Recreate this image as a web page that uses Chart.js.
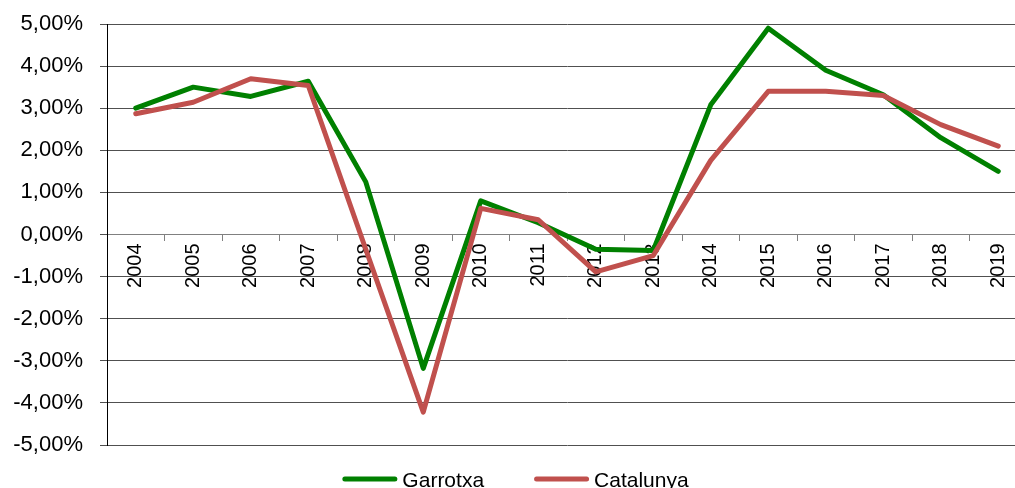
<!DOCTYPE html>
<html>
<head>
<meta charset="utf-8">
<title>Garrotxa i Catalunya</title>
<script src="https://cdn.jsdelivr.net/npm/chart.js@4.4.1/dist/chart.umd.min.js"></script>
<style>
  html, body { margin: 0; padding: 0; background: #fff; overflow: hidden; }
  #wrap { width: 1030px; height: 488px; }
</style>
</head>
<body>
<div id="wrap"><canvas id="chart" width="1030" height="488"></canvas></div>
<script>
// Annual variation (%) by year
const years = ['2004', '2005', '2006', '2007', '2008', '2009', '2010', '2011',
               '2012', '2013', '2014', '2015', '2016', '2017', '2018', '2019'];
const garrotxa = [3.00, 3.50, 3.28, 3.64, 1.25, -3.18, 0.80, 0.28,
                  -0.35, -0.38, 3.08, 4.90, 3.90, 3.32, 2.30, 1.50];
const catalunya = [2.87, 3.14, 3.70, 3.54, -0.35, -4.22, 0.62, 0.35,
                   -0.89, -0.50, 1.76, 3.40, 3.40, 3.30, 2.61, 2.10];
const yMin = -5;
const yMax = 5;
const yStep = 1;

const FONT = "'Liberation Sans', Arial, sans-serif";

const fmtPct = v => v.toFixed(2).replace('-0.00', '0.00').replace('.', ',') + '%';

// Legend drawn under the plot: a short stroke per series followed by its name
const lineLegend = {
  id: 'lineLegend',
  afterDraw(chart, args, opts) {
    const ctx = chart.ctx;
    ctx.save();
    ctx.font = `${opts.size}px ${FONT}`;
    const items = chart.data.datasets.map(ds => ({
      text: ds.label,
      color: ds.borderColor,
      w: ctx.measureText(ds.label).width
    }));
    const total = items.reduce((s, it) => s + opts.lineLen + opts.textGap + it.w, 0)
                + opts.itemGap * (items.length - 1);
    let x = opts.centerX - total / 2;
    items.forEach(it => {
      ctx.strokeStyle = it.color;
      ctx.lineWidth = opts.lineWidth;
      ctx.lineCap = 'round';
      ctx.beginPath();
      ctx.moveTo(x + opts.lineWidth / 2, opts.y);
      ctx.lineTo(x + opts.lineLen - opts.lineWidth / 2, opts.y);
      ctx.stroke();
      ctx.fillStyle = '#000';
      ctx.textBaseline = 'alphabetic';
      ctx.textAlign = 'left';
      ctx.fillText(it.text, x + opts.lineLen + opts.textGap, opts.y + 7.5);
      x += opts.lineLen + opts.textGap + it.w + opts.itemGap;
    });
    ctx.restore();
  }
};

new Chart(document.getElementById('chart'), {
  type: 'line',
  data: {
    labels: years,
    datasets: [
      {
        label: 'Garrotxa',
        data: garrotxa,
        borderColor: '#008000',
        backgroundColor: '#008000',
        borderWidth: 5,
        order: 2
      },
      {
        label: 'Catalunya',
        data: catalunya,
        borderColor: '#C0504D',
        backgroundColor: '#C0504D',
        borderWidth: 5,
        order: 1
      }
    ]
  },
  plugins: [lineLegend],
  options: {
    responsive: false,
    animation: false,
    devicePixelRatio: 1,
    layout: { padding: { top: 24, bottom: 43, left: 0, right: 3 } },
    elements: {
      line: { tension: 0, borderCapStyle: 'round', borderJoinStyle: 'round', fill: false },
      point: { radius: 0, hoverRadius: 0 }
    },
    plugins: {
      legend: { display: false },
      tooltip: { enabled: false },
      lineLegend: { size: 21, lineLen: 55, lineWidth: 5, textGap: 5, itemGap: 50, centerX: 515.5, y: 479 }
    },
    scales: {
      x: {
        type: 'category',
        position: { y: 0 },
        offset: true,
        grid: { drawOnChartArea: false, drawTicks: true, tickLength: 6, color: '#808080', offset: true },
        border: { display: true, color: '#808080', width: 1 },
        ticks: {
          autoSkip: false,
          minRotation: 90,
          maxRotation: 90,
          padding: 3,
          color: '#000',
          font: { family: FONT, size: 20 }
        }
      },
      y: {
        position: 'left',
        min: yMin,
        max: yMax,
        afterFit(scale) {
          scale.width = 107;
          scale.paddingTop = 0;
          scale.paddingBottom = 0;
        },
        grid: { color: '#505050', lineWidth: 1, tickLength: 7, drawTicks: true },
        border: { display: true, color: '#000', width: 1 },
        ticks: {
          stepSize: yStep,
          padding: 17,
          color: '#000',
          font: { family: FONT, size: 22 },
          callback: v => fmtPct(v)
        }
      }
    }
  }
});
</script>
</body>
</html>
